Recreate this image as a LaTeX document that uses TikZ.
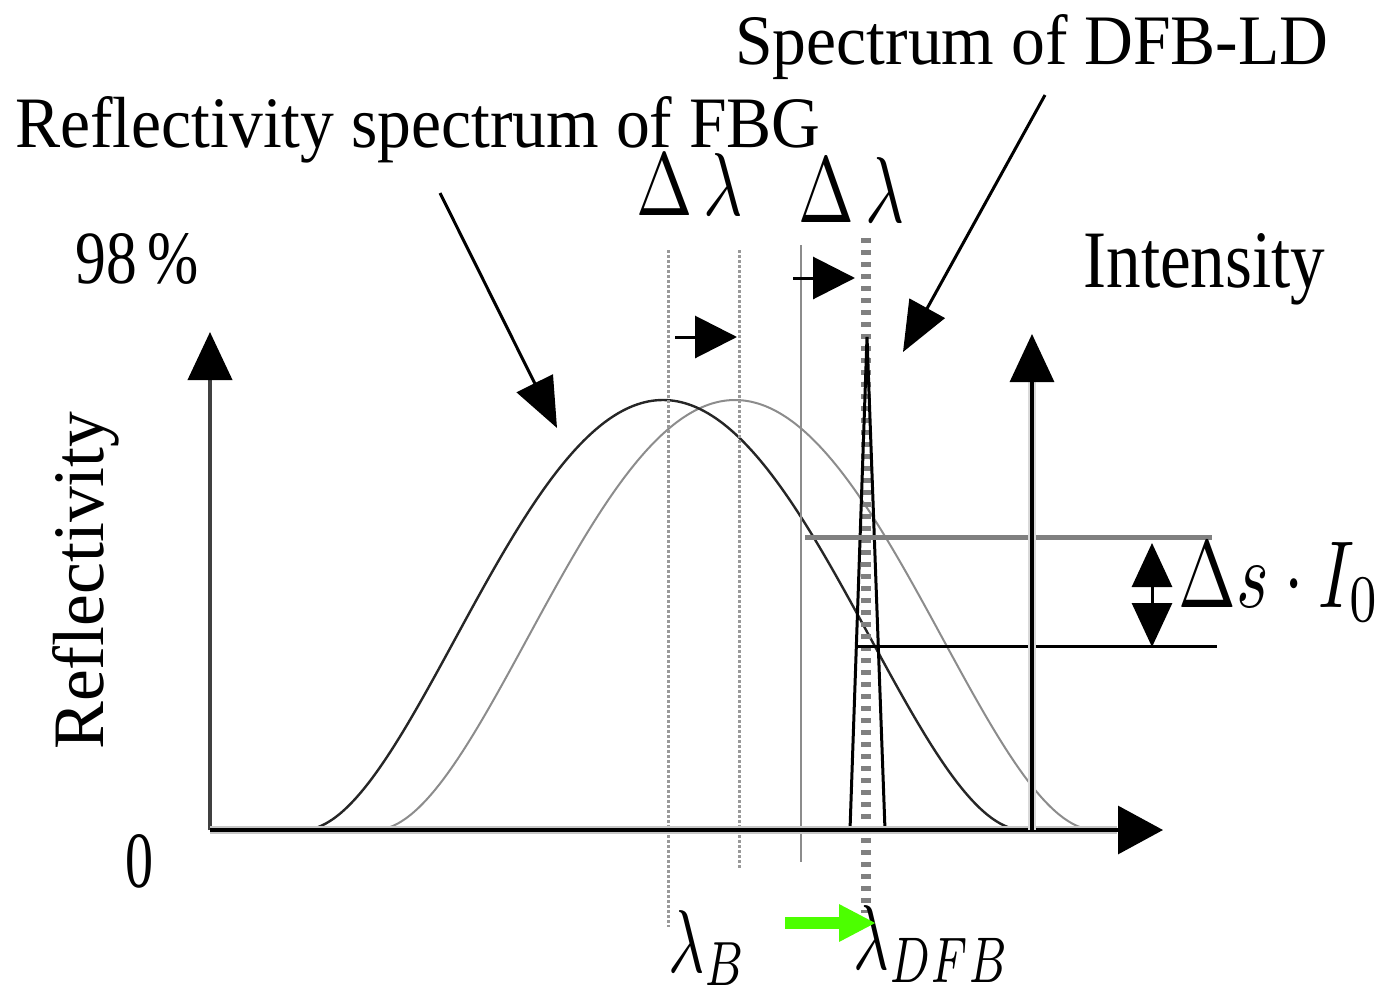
\documentclass[tikz,border=0pt]{standalone}
\usepackage{fontspec}
\setmainfont{Liberation Serif}
\usetikzlibrary{arrows.meta}
\newcommand\fitto[3]{\resizebox{#1}{#2}{#3}}
\tikzset{fbg/.pic={
  \draw plot[domain=-360:360,samples=97,smooth] (\x,{-430*(1-(\x/360)^2)^2});}}

\begin{document}
\begin{tikzpicture}[x=0.5pt,y=-0.5pt,
  lbl/.style={inner sep=0pt,anchor=base west},
  ax/.style={-{Triangle[length=24pt,width=22pt,color=black]}},
  ptr/.style={line width=1.5pt,-{Triangle[length=25pt,width=20pt]}},
  shiftarr/.style={line width=1.5pt,-{Triangle[length=21pt,width=21pt]}},
  dotl/.style={gray!80,line width=1.5pt,dash pattern=on 1.5pt off 1pt}]
\useasboundingbox (0,0) rectangle (1385,995);
% axes
\coordinate (o) at (210,830);
\coordinate (ytop) at (210,332);
\coordinate (xend) at (1163,830);
\coordinate (io) at (1032,830);
\coordinate (itop) at (1032,334);
% reflectivity curves (shifted one in grey)
\pic[black!45,line width=1pt] at (735,830) {fbg};
\pic[black!85,line width=1.2pt] at (663,830) {fbg};
% wavelength markers
\draw[dotl] (668,250) -- (668,927);
\draw[dotl] (739,250) -- (739,868);
\draw[gray!90,line width=1.4pt] (801,245) -- (801,862);
\draw[gray,line width=5pt,dash pattern=on 2.5pt off 3.5pt] (866,238) -- (866,913);
% DFB spectrum
\draw[line width=1.5pt,line join=miter] (850,830) -- (867,337) -- (885,830);
% intensity levels
\draw[gray,line width=2.5pt] (805,537) -- (1212,537);
\draw[line width=1.5pt] (855,646) -- (1217,646);
\coordinate (d1) at (1152,543);
\coordinate (d2) at (1152,647);
\draw[line width=1.5pt,{Triangle[length=22pt,width=20pt]}-{Triangle[length=22pt,width=20pt]}] (d1) -- (d2);
\draw[black!75,line width=2pt,ax] (o) -- (ytop);
\draw[gray!45,line width=4pt] (o) -- (1117,830);
\draw[line width=1.6pt,-{Triangle[length=22.5pt,width=24pt]}] (o) -- (xend);
\draw[gray!30,line width=4pt] (io) -- (1032,382);
\draw[line width=1.6pt,ax] (io) -- (itop);
% labels
\node[lbl] (dfb) at (735,65) {\fitto{296.5pt}{25pt}{Spectrum of DFB-LD}};
\node[lbl] (fbg) at (15,148) {\fitto{402.5pt}{25.5pt}{Reflectivity spectrum of FBG}};
\node[lbl] (dl1) at (636,215) {\fitto{53.5pt}{31pt}{$\Delta\,\lambda$}};
\node[lbl] (dl2) at (798,222) {\fitto{53pt}{32.5pt}{$\Delta\,\lambda$}};
\node[lbl] (pct) at (75,283) {\fitto{61.5pt}{25pt}{98\,\%}};
\node[lbl] (int) at (1083,287) {\fitto{121pt}{27pt}{Intensity}};
\node[lbl,rotate=90] (refl) at (103,750) {\fitto{169pt}{25.5pt}{Reflectivity}};
\node[lbl] (zero) at (125,887) {\fitto{14pt}{26.5pt}{0}};
\node[lbl] (lb) at (668,972) {\fitto{39.5pt}{31pt}{$\lambda_B$}};
\node[lbl] (ldfb) at (853,969) {\fitto{78.5pt}{32pt}{$\lambda_{DFB}$}};
\node[lbl] (ds) at (1178,607) {\fitto{101pt}{32.5pt}{$\Delta s\cdot I_0$}};
% pointers
\coordinate (p1) at (440,193);
\coordinate (p1e) at (557,428);
\coordinate (p2) at (1045,95);
\coordinate (p2e) at (903,352);
\draw[ptr] (p1) -- (p1e);
\draw[ptr] (p2) -- (p2e);
\coordinate (s1) at (675,337);
\coordinate (s1e) at (737,337);
\coordinate (s2) at (793,278);
\coordinate (s2e) at (855,278);
\draw[shiftarr] (s1) -- (s1e);
\draw[shiftarr] (s2) -- (s2e);
\coordinate (g1) at (785,923);
\coordinate (g2) at (876,923);
\draw[green!60!lime,line width=6pt,-{Triangle[length=18.5pt,width=17.5pt]}] (g1) -- (g2);
\end{tikzpicture}
\end{document}
